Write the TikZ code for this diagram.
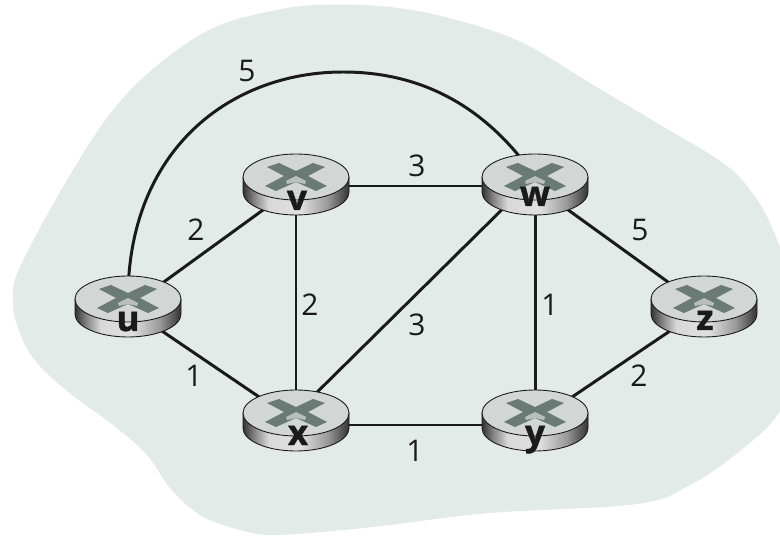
\documentclass[tikz,border=0pt]{standalone}
\usepackage{fontspec}
\setmainfont{Open Sans}
\definecolor{C0}{HTML}{E3EBE8}
\definecolor{C1}{HTML}{D2D6D5}
\definecolor{C2}{HTML}{6A7A75}
\definecolor{C3}{HTML}{1A1A1A}
\pgfdeclarehorizontalshading{routerside}{100bp}{
    color(0bp)=(black!80);
    color(25bp)=(black!80);
    color(30bp)=(black!50);
    color(37bp)=(black!15);
    color(52bp)=(black!12);
    color(65bp)=(black!40);
    color(75bp)=(black!80);
    color(100bp)=(black!80)
}
\tikzset{
    link/.style={line width=1.7pt, C3},
    weight/.style={inner sep=0pt, C3, font=\fontsize{17}{17}\selectfont},
    routername/.style={inner sep=0pt, anchor=base, C3, font=\bfseries\fontsize{20}{20}\selectfont\addfontfeatures{FakeBold=1.2}},
    router/.pic={
        \shade [shading=routerside, shading angle=0] (-53,0) -- (-53,15) .. controls (-53,27.7) and (-29.3,38) .. (0,38) .. controls (29.3,38) and (53,27.7) .. (53,15) -- (53,0) -- cycle;
        \draw [line width=.5pt, C3] (-53,0) -- (-53,15) .. controls (-53,27.7) and (-29.3,38) .. (0,38) .. controls (29.3,38) and (53,27.7) .. (53,15) -- (53,0);
        \draw [line width=.5pt, C3, fill=C1] (0,0) ellipse (53 and 23);
        \fill [C2] (-29,-10) -- (-17,-14) -- (0,-6) -- (17,-14) -- (29,-10) -- (12,-1) -- (31,9) -- (20,14) -- (0,5) -- (-20,14) -- (-31,9) -- (-12,-1) -- cycle;
        \fill [C2!25!C1] (0,-1) -- (-10,4) -- (-9,7) -- (0,5) -- (9,7) -- (10,4) -- cycle;
    }
}

\begin{document}
\begin{tikzpicture}[x=.02cm, y=-.02cm]
    \useasboundingbox (0,0) rectangle (780,536);
    % cloud behind the network
    \begin{scope}
        \clip (0,0) rectangle (780,536);
        \fill [C0] plot [smooth cycle, tension=.6] coordinates {
            (13,298) (20,267) (67,180) (113,110) (160,63) (213,28) (267,12) (317,5) (390,7)
            (457,20) (523,43) (590,83) (657,123) (723,163) (750,190) (770,223) (790,280) (800,350) (780,411)
            (740,451) (690,485) (637,504) (490,513) (390,525) (333,531) (273,535) (240,530) (200,515)
            (170,488) (147,455) (113,425) (67,391) (33,358) (17,325)};
    \end{scope}
    % top of each router, and the middle of its side
    \foreach \name/\px/\py in {u/128/299, v/296/177, w/535/177, x/296/413, y/535/413, z/704/299} {
        \coordinate (\name) at (\px,\py);
        \coordinate (\name-b) at (\px,\py+9);
    }
    \draw [link] (u-b) -- (v-b);
    \draw [link] (u-b) -- (x-b);
    \draw [link] (v-b) -- (w-b);
    \draw [link] (v-b) -- (x-b);
    \draw [link] (w) -- (x);
    \draw [link] (w-b) -- (y-b);
    \draw [link] (w-b) -- (z-b);
    \draw [link] ([yshift=-.06cm]x-b) -- ([yshift=-.06cm]y-b);
    \draw [link] (y-b) -- (z-b);
    \draw [link] (u) .. controls (128,150) and (230,72) .. (343,72) .. controls (420,72) and (485,105) .. (w);
    \foreach \name in {u,v,w,x,y,z} {
        \pic at (\name) {router};
    }
    \node [routername] (name-u) at (128,331) {u};
    \node [routername] (name-v) at (297,210) {v};
    \node [routername] (name-w) at (535,206) {w};
    \node [routername] (name-x) at (298,445) {x};
    \node [routername] (name-y) at (535,445) {y};
    \node [routername] (name-z) at (705,330) {z};
    \node [weight] (cost-uw) at (247,71) {5};
    \node [weight] (cost-uv) at (196,230) {2};
    \node [weight] (cost-vw) at (417,166) {3};
    \node [weight] (cost-wz) at (640,230) {5};
    \node [weight] (cost-vx) at (310,305) {2};
    \node [weight] (cost-ux) at (194,376) {1};
    \node [weight] (cost-wx) at (417,325) {3};
    \node [weight] (cost-wy) at (550,305) {1};
    \node [weight] (cost-yz) at (639,376) {2};
    \node [weight] (cost-xy) at (415,451) {1};
\end{tikzpicture}
\end{document}
